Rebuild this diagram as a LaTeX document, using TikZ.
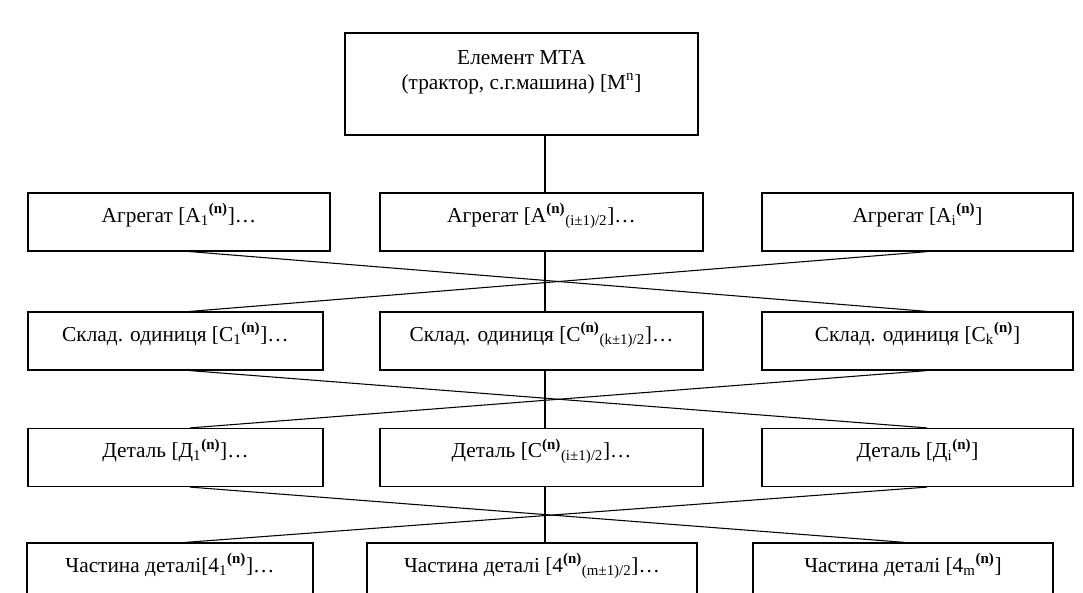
\documentclass[tikz,border=0pt]{standalone}
\usepackage{fontspec}
\setmainfont{Liberation Serif}
\usetikzlibrary{calc}
\newcommand\lo[1]{\textsubscript{#1}}
\newcommand\nsup{\textsuperscript{\textbf{(n)}}}
\begin{document}
\begin{tikzpicture}[x=0.75pt,y=-0.75pt,
  box/.style={draw, line width=0.9pt, inner sep=0pt, text height=21.75pt, text depth=21.75pt,
              minimum height=43.5pt, font=\fontsize{16}{19}\selectfont},
  link/.style={line width=0.8pt}]
\useasboundingbox (0,0) rectangle (1083,593);
\clip (0,0) rectangle (1083,593);
\coordinate (spine) at (545,0);
% top
\node[draw, line width=0.9pt, minimum width=264.75pt, minimum height=76.5pt] (top) at (521.5,84) {};
\node[align=center, font=\fontsize{16}{18.75}\selectfont] (toptext) at (521.5,72)
  {Елемент МТА\\(трактор, с.г.машина) [M\textsuperscript{n}]};
% row 1
\node[box, minimum width=226.5pt] (a1) at (179,222) {Агрегат [A\lo{1}\nsup]…};
\node[box, minimum width=242.25pt] (a2) at (541.5,222) {Агрегат [A\nsup\lo{(i±1)/2}]…};
\node[box, minimum width=233.25pt] (a3) at (917.5,222) {Агрегат [A\lo{i}\nsup]};
% row 2
\node[box, minimum width=221.25pt] (c1) at (175.5,341) {Склад. одиниця [C\lo{1}\nsup]…};
\node[box, minimum width=242.25pt] (c2) at (541.5,341) {Склад. одиниця [C\nsup\lo{(k±1)/2}]…};
\node[box, minimum width=233.25pt] (c3) at (917.5,341) {Склад. одиниця [C\lo{k}\nsup]};
% row 3
\node[box, minimum width=221.25pt] (d1) at (175.5,457.5) {Деталь [Д\lo{1}\nsup]…};
\node[box, minimum width=242.25pt] (d2) at (541.5,457.5) {Деталь [C\nsup\lo{(i±1)/2}]…};
\node[box, minimum width=233.25pt] (d3) at (917.5,457.5) {Деталь [Д\lo{i}\nsup]};
% row 4
\node[box, minimum width=214.5pt] (p1) at (170,572) {Частина деталі[4\lo{1}\nsup]…};
\node[box, minimum width=247.5pt] (p2) at (532,572) {Частина деталі [4\nsup\lo{(m±1)/2}]…};
\node[box, minimum width=225pt] (p3) at (903,572) {Частина деталі [4\lo{m}\nsup]};
% connectors
\draw[link] (top.south -| spine) -- (a2.north -| spine);
\draw[link] (a2.south -| spine) -- (c2.north -| spine);
\draw[link] (c2.south -| spine) -- (d2.north -| spine);
\draw[link] (d2.south -| spine) -- (p2.north -| spine);
\draw[link] ($(a1.south)+(11,0)$) -- ($(c3.north)+(9.5,0)$);
\draw[link] ($(a3.south)+(10,0)$) -- ($(c1.north)+(14.5,0)$);
\draw[link] ($(c1.south)+(14.5,0)$) -- ($(d3.north)+(9.5,0)$);
\draw[link] ($(c3.south)+(9.5,0)$) -- ($(d1.north)+(14.5,0)$);
\draw[link] ($(d1.south)+(14.5,0)$) -- ($(p3.north)+(2,0)$);
\draw[link] ($(d3.south)+(9.5,0)$) -- ($(p1.north)+(15,0)$);
\end{tikzpicture}
\end{document}
